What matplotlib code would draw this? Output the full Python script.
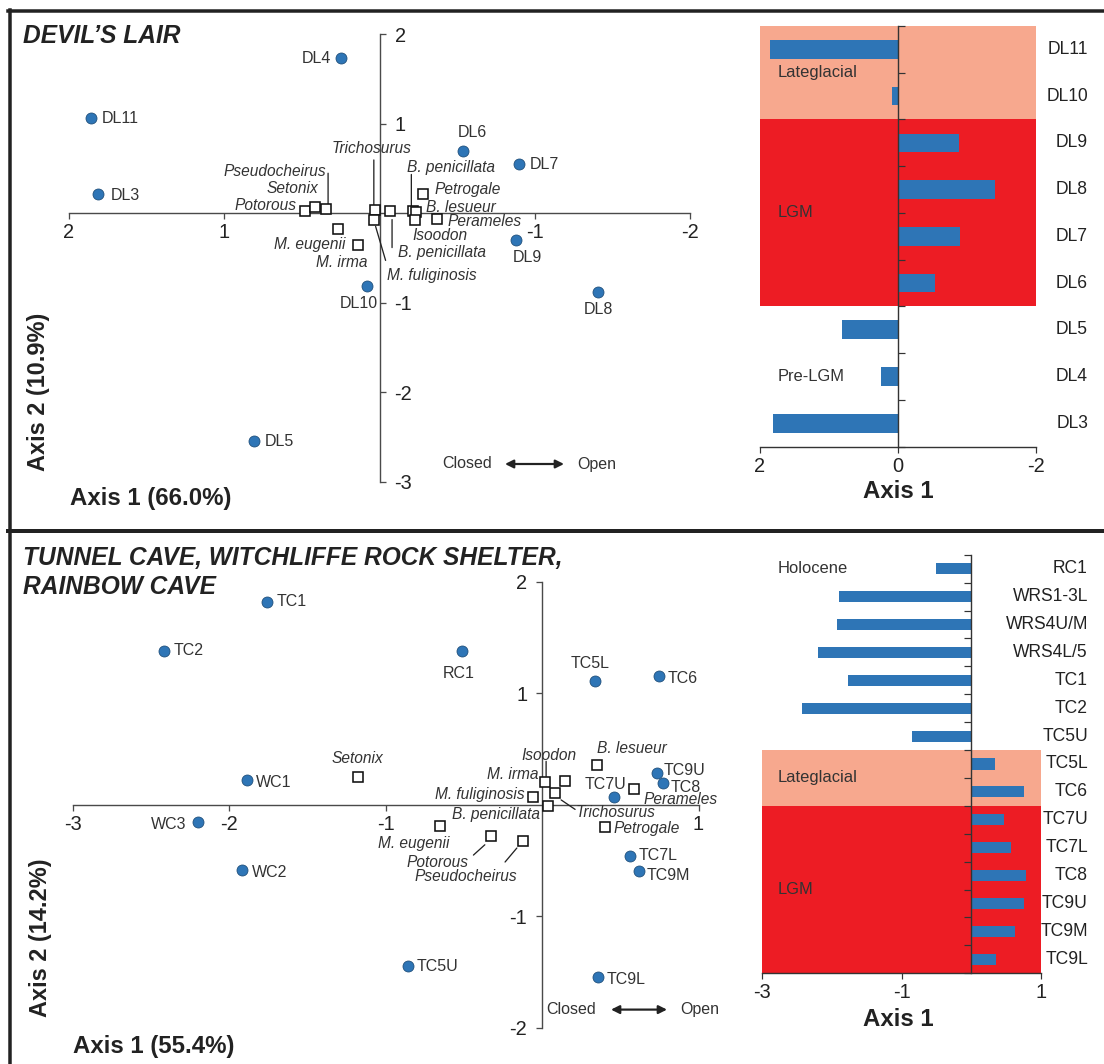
import numpy as np
import matplotlib
matplotlib.use('Agg')
import matplotlib.pyplot as plt
from matplotlib.lines import Line2D
from matplotlib.transforms import offset_copy

plt.rcParams['font.family'] = ['Liberation Sans', 'DejaVu Sans']

# ---------------- data: Devil's Lair ----------------
dl_sites = ['DL11', 'DL10', 'DL9', 'DL8', 'DL7', 'DL6', 'DL5', 'DL4', 'DL3']
dl_axis1 = [1.86, 0.08, -0.88, -1.41, -0.90, -0.54, 0.81, 0.245, 1.81]
dl_axis2 = [1.06, -0.81, -0.30, -0.88, 0.55, 0.70, -2.55, 1.73, 0.22]
dl_period = ['Lateglacial', 'Lateglacial', 'LGM', 'LGM', 'LGM', 'LGM',
             'Pre-LGM', 'Pre-LGM', 'Pre-LGM']

dl_taxa = ['Potorous', 'Setonix', 'Pseudocheirus', 'M. eugenii', 'M. irma',
           'Trichosurus', 'M. fuliginosis', 'B. penicillata', 'B. penicillata',
           'B. lesueur', 'Isoodon', 'Petrogale', 'Perameles']
dl_taxa_x = [0.48, 0.415, 0.346, 0.27, 0.14, 0.032, 0.038, -0.068, -0.218,
             -0.232, -0.23, -0.282, -0.372]
dl_taxa_y = [0.03, 0.07, 0.045, -0.18, -0.36, 0.037, -0.08, 0.03, 0.02,
             0.015, -0.08, 0.213, -0.067]

# ---------------- data: Tunnel Cave / WRS / Rainbow Cave ----------------
tc_sites = ['TC1', 'TC2', 'RC1', 'TC5L', 'TC6', 'WC1', 'WC3', 'WC2', 'TC9U',
            'TC8', 'TC7U', 'TC7L', 'TC9M', 'TC5U', 'TC9L']
tc_axis1 = [-1.76, -2.42, -0.51, 0.34, 0.75, -1.89, -2.20, -1.92, 0.735,
            0.775, 0.46, 0.56, 0.62, -0.855, 0.355]
tc_axis2 = [1.82, 1.38, 1.38, 1.11, 1.15, 0.22, -0.16, -0.59, 0.28,
            0.195, 0.07, -0.46, -0.60, -1.45, -1.55]

tc_taxa = ['Setonix', 'M. irma', 'Isoodon', 'Trichosurus', 'M. fuliginosis',
           'B. penicillata', 'B. lesueur', 'Perameles', 'Petrogale',
           'M. eugenii', 'Potorous', 'Pseudocheirus']
tc_taxa_x = [-1.18, 0.019, 0.147, 0.083, -0.059, 0.036, 0.35, 0.588, 0.403,
             -0.65, -0.328, -0.12]
tc_taxa_y = [0.244, 0.204, 0.208, 0.10, 0.065, -0.011, 0.354, 0.136, -0.204,
             -0.195, -0.28, -0.327]

tc_bar_samples = ['RC1', 'WRS1-3L', 'WRS4U/M', 'WRS4L/5', 'TC1', 'TC2', 'TC5U',
                  'TC5L', 'TC6', 'TC7U', 'TC7L', 'TC8', 'TC9U', 'TC9M', 'TC9L']
tc_bar_axis1 = [-0.50, -1.89, -1.93, -2.20, -1.76, -2.43, -0.85,
                0.34, 0.76, 0.47, 0.57, 0.78, 0.75, 0.63, 0.36]
tc_bar_period = ['Holocene'] * 7 + ['Lateglacial'] * 2 + ['LGM'] * 6

# ---------------- styling / layout ----------------
W, H = 1104, 1064
BLUE = '#2E75B6'
band_colors = {'Lateglacial': '#F7A88E', 'LGM': '#ED1C24'}
TXT = '#333333'
AX = '#4a4a4a'

# label offsets (pixels) for points: dx, dy, ha
dl_site_off = {'DL11': (11.5, 0, 'left'), 'DL10': (-8.7, -18, 'center'),
               'DL9': (11, -17.3, 'center'), 'DL8': (0, -17.7, 'center'),
               'DL7': (10.5, 0, 'left'), 'DL6': (9, 17.7, 'center'),
               'DL5': (11, 0, 'left'), 'DL4': (-10.5, 0, 'right'),
               'DL3': (12, -2, 'left')}
dl_taxa_off = [(-8, 5, 'right'), (3, 18, 'right'), (0, 38, 'right'),
               (8, -15, 'right'), (10, -17, 'right'), (-3, 61, 'center'),
               (13, -55, 'left'), (8, -42, 'left'), (-6, 44, 'left'),
               (10.5, 4.4, 'left'), (-3, -15.4, 'left'), (11, 5, 'left'),
               (10, -2, 'left')]
dl_leaders = {2: ((2.3, 36), (2.3, 5.5)), 5: ((-0.7, 50), (-0.7, 4)),
              6: ((12, -40), (2, -6)), 7: ((2, -9), (2, -37)),
              8: ((-2, 37), (-2, 4))}

tc_site_off = {'TC1': (10, 0, 'left'), 'TC2': (10, 0, 'left'),
               'RC1': (-3.7, -23.3, 'center'), 'TC5L': (-5, 17.4, 'center'),
               'TC6': (8, -2, 'left'), 'WC1': (9, -2, 'left'),
               'WC3': (-11.3, -2, 'right'), 'WC2': (10.4, -2, 'left'),
               'TC9U': (7, 2.5, 'left'), 'TC8': (7, -4.5, 'left'),
               'TC7U': (-9, 12, 'center'), 'TC7L': (8.5, 0, 'left'),
               'TC9M': (8, -4, 'left'), 'TC5U': (8.5, 0, 'left'),
               'TC9L': (9.4, -2, 'left')}
tc_taxa_off = [(0, 18.4, 'center'), (-7, 7, 'right'), (-15.7, 26, 'center'),
               (21, -19, 'left'), (-8, 3, 'right'), (-8, -9, 'right'),
               (35, 16.5, 'center'), (9, -10, 'left'), (8, -1, 'left'),
               (9.4, -17, 'right'), (-22, -26.3, 'right'), (-6.5, -35, 'right')]
tc_leaders = {2: ((-19, 20), (-19, 5)), 3: ((20, -16), (6, -6.5)),
              10: ((-17.4, -19.3), (-6, -9)), 11: ((-18.3, -21), (-6.5, -7))}

fig = plt.figure(figsize=(W / 72, H / 72), dpi=72)


def box(x0, x1, y0, y1):
    return [x0 / W, 1 - y1 / H, (x1 - x0) / W, (y1 - y0) / H]


def leader(ax, x, y, a, b):
    ax.annotate('', xy=(x, y),
                xycoords=offset_copy(ax.transData, fig=fig, x=b[0], y=b[1], units='dots'),
                xytext=(x, y),
                textcoords=offset_copy(ax.transData, fig=fig, x=a[0], y=a[1], units='dots'),
                arrowprops=dict(arrowstyle='-', color='#222', lw=1.3,
                                shrinkA=0, shrinkB=0))


def pca_panel(rect, xlim, ylim, xticks, yticks, yside,
              sx, sy, snames, soff, tx, ty, tnames, toff, leaders):
    ax = fig.add_axes(rect)
    ax.patch.set_alpha(0)
    ax.set_xlim(xlim)
    ax.set_ylim(ylim)
    ax.spines['top'].set_visible(False)
    ax.spines['bottom'].set_position(('data', 0))
    if yside == 'right':
        ax.spines['left'].set_visible(False)
        ax.spines['right'].set_position(('data', 0))
        ax.yaxis.tick_right()
    else:
        ax.spines['right'].set_visible(False)
        ax.spines['left'].set_position(('data', 0))
    for s in ax.spines.values():
        s.set_color(AX)
        s.set_linewidth(1.4)
    ax.set_xticks(xticks)
    ax.set_xticklabels([f'{t:g}' for t in xticks])
    ax.set_yticks(yticks)
    ax.set_yticklabels([f'{t:g}' for t in yticks])
    ax.tick_params(axis='both', direction='out', length=6, width=1.3,
                   color=AX, labelsize=20, labelcolor='#222')
    ax.tick_params(axis='x', pad=4)
    ax.tick_params(axis='y', pad=9)

    ax.plot(tx, ty, 's', ms=10, mfc='white', mec='#111', mew=1.6,
            ls='none', zorder=4, clip_on=False)
    ax.plot(sx, sy, 'o', ms=11, mfc=BLUE, mec='#1F4E79', mew=0.8,
            ls='none', zorder=5, clip_on=False)
    for x, y, n in zip(sx, sy, snames):
        dx, dy, ha = soff[n]
        ax.annotate(n, (x, y), xytext=(dx, dy), textcoords='offset points',
                    ha=ha, va='center', fontsize=16, color=TXT)
    for i, (x, y, n) in enumerate(zip(tx, ty, tnames)):
        dx, dy, ha = toff[i]
        ax.annotate(n, (x, y), xytext=(dx, dy), textcoords='offset points',
                    ha=ha, va='center', fontsize=15.5, style='italic', color=TXT)
        if i in leaders:
            leader(ax, x, y, *leaders[i])
    return ax


def bar_panel(rect, xlim, xticks, samples, vals, periods, label_x, name_x,
              label_rows, tick_dir):
    ax = fig.add_axes(rect)
    n = len(samples)
    ypos = np.arange(n)
    ax.set_xlim(xlim)
    ax.set_ylim(n - 0.5, -0.5)
    # period bands
    start = 0
    for i in range(1, n + 1):
        if i == n or periods[i] != periods[start]:
            p = periods[start]
            if p in band_colors:
                ax.axhspan(start - 0.5, i - 0.5, color=band_colors[p], lw=0, zorder=0)
            row = label_rows.get(p, (start + i - 1) / 2)
            ax.text(label_x, row, p, transform=ax.get_yaxis_transform(),
                    ha='left', va='center', fontsize=16.5, color=TXT)
            start = i
    ax.barh(ypos, vals, height=0.4, color=BLUE, zorder=2)
    ax.spines['top'].set_visible(False)
    ax.spines['left'].set_visible(False)
    ax.spines['right'].set_position(('data', 0))
    for s in ax.spines.values():
        s.set_color('#333')
        s.set_linewidth(1.4)
    ax.yaxis.tick_right()
    ax.set_yticks(np.arange(n + 1) - 0.5)
    ax.set_yticklabels([])
    ax.tick_params(axis='y', direction=tick_dir, length=7, width=1.2, color='#333')
    ax.set_xticks(xticks)
    ax.set_xticklabels([f'{t:g}' for t in xticks])
    ax.tick_params(axis='x', direction='out', length=6, width=1.2, color='#333',
                   labelsize=20, labelcolor='#222', pad=4)
    for y, s in zip(ypos, samples):
        ax.text(name_x, y, s, transform=ax.get_yaxis_transform(),
                ha='right', va='center', fontsize=17.5, color='#222')
    return ax


# ---------------- top panel ----------------
pca_panel(box(69, 690, 34.3, 481.7), (2, -2), (-3, 2), [2, 1, -1, -2],
          [2, 1, -1, -2, -3], 'right',
          dl_axis1, dl_axis2, dl_sites, dl_site_off,
          dl_taxa_x, dl_taxa_y, dl_taxa, dl_taxa_off, dl_leaders)

bar_panel(box(760, 1036, 26, 446.7), (2, -2), [2, 0, -2],
          dl_sites, dl_axis1, dl_period,
          (778 - 760) / 276, (1088 - 760) / 276, {}, 'out')

# ---------------- bottom panel ----------------
pca_panel(box(73, 698.5, 581.5, 1027.6), (-3, 1), (-2, 2), [-3, -2, -1, 1],
          [2, 1, -1, -2], 'left',
          tc_axis1, tc_axis2, tc_sites, tc_site_off,
          tc_taxa_x, tc_taxa_y, tc_taxa, tc_taxa_off, tc_leaders)

bar_panel(box(762, 1041, 554.8, 973.2), (-3, 1), [-3, -1, 1],
          tc_bar_samples, tc_bar_axis1, tc_bar_period,
          (778 - 762) / 279, (1088 - 762) / 279, {'Holocene': 0}, 'in')

# ---------------- titles, axis labels ----------------
def ftext(x, y, s, **kw):
    fig.text(x / W, 1 - y / H, s, **kw)


ftext(23, 36, 'DEVIL\u2019S LAIR', fontsize=24.5, weight='bold', style='italic',
      va='center', color='#222')
ftext(23, 558, 'TUNNEL CAVE, WITCHLIFFE ROCK SHELTER,', fontsize=24.5,
      weight='bold', style='italic', va='center', color='#222')
ftext(23, 587, 'RAINBOW CAVE', fontsize=24.5, weight='bold', style='italic',
      va='center', color='#222')

ftext(39, 392, 'Axis 2 (10.9%)', fontsize=23.5, weight='bold', rotation=90,
      ha='center', va='center', color='#222')
ftext(70, 498, 'Axis 1 (66.0%)', fontsize=24, weight='bold', va='center', color='#222')
ftext(41, 938, 'Axis 2 (14.2%)', fontsize=23.5, weight='bold', rotation=90,
      ha='center', va='center', color='#222')
ftext(73, 1046, 'Axis 1 (55.4%)', fontsize=24, weight='bold', va='center', color='#222')

ftext(898, 492, 'Axis 1', fontsize=24, weight='bold', ha='center', va='center', color='#222')
ftext(898, 1020, 'Axis 1', fontsize=24, weight='bold', ha='center', va='center', color='#222')

# closed / open arrows
for y, xc, xa0, xa1, xo in [(464, 492, 503, 566, 577), (1009.6, 596, 609, 669, 680)]:
    ftext(xc, y, 'Closed', fontsize=16, ha='right', va='center', color=TXT)
    ftext(xo, y, 'Open', fontsize=16, ha='left', va='center', color=TXT)
    fig.add_artist(matplotlib.patches.FancyArrowPatch(
        (xa0 / W, 1 - y / H), (xa1 / W, 1 - y / H), transform=fig.transFigure,
        arrowstyle='<|-|>', mutation_scale=17, lw=2.2, color='#222'))

# frame lines
fig.add_artist(Line2D([8 / W, 1], [1 - 11 / H, 1 - 11 / H], transform=fig.transFigure,
                      lw=3.5, color='#222'))
fig.add_artist(Line2D([10 / W, 10 / W], [1 - 9.5 / H, 0], transform=fig.transFigure,
                      lw=3.5, color='#222'))
fig.add_artist(Line2D([8 / W, 1], [1 - 531 / H, 1 - 531 / H], transform=fig.transFigure,
                      lw=4, color='#222'))

fig.savefig('out.png', dpi=72)
